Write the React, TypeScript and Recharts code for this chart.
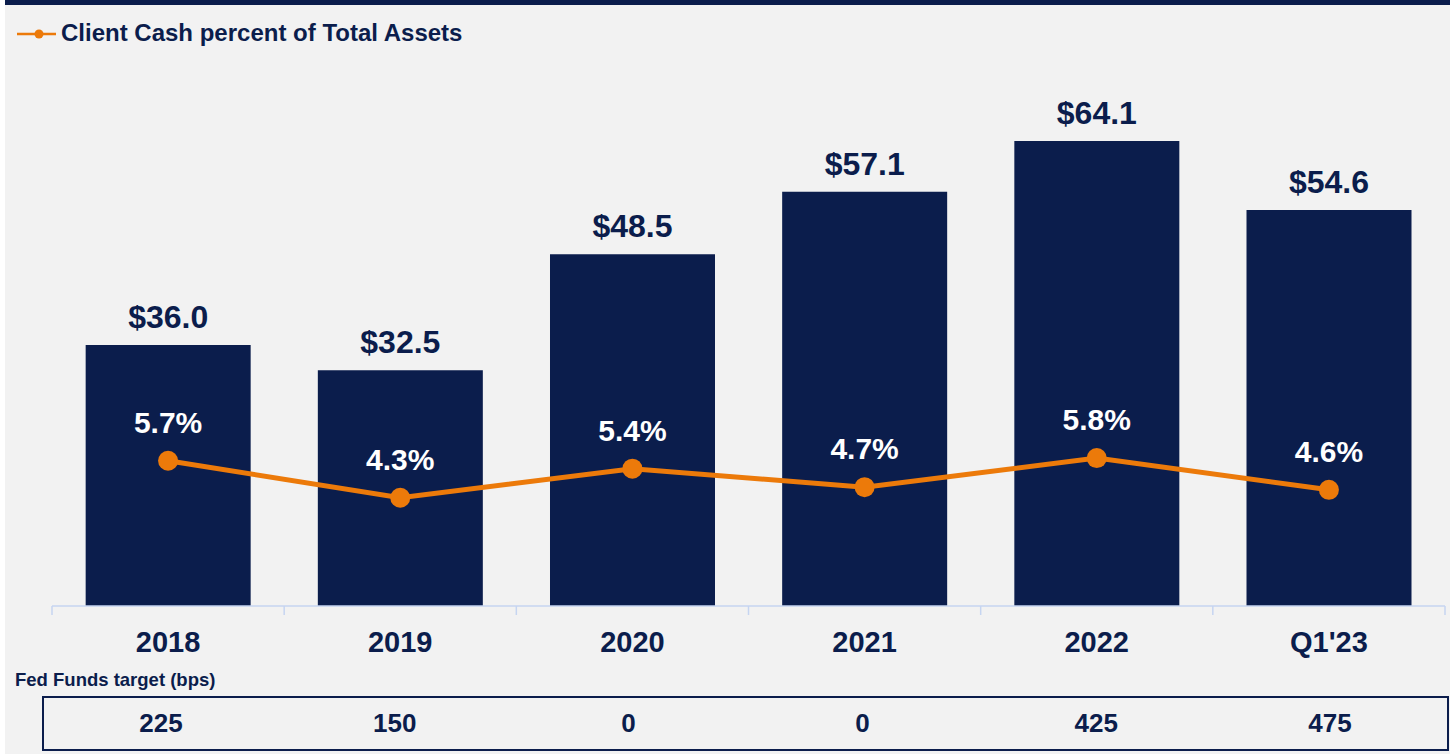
import {
  ComposedChart,
  Bar,
  Line,
  XAxis,
  YAxis,
  LabelList,
  Legend,
} from "recharts";

const categories = ["2018", "2019", "2020", "2021", "2022", "Q1'23"];
const clientCash = [36.0, 32.5, 48.5, 57.1, 64.1, 54.6];
const cashPct = [5.7, 4.3, 5.4, 4.7, 5.8, 4.6];
const fedFunds = ["225", "150", "0", "0", "425", "475"];

const NAVY = "#0b1d4c";
const ORANGE = "#ec7a0a";
const AXIS = "#c6d5f1";
const FONT = "'Liberation Sans', Arial, sans-serif";

const data = categories.map((year, i) => ({
  year,
  cash: clientCash[i],
  pct: cashPct[i],
}));

function YearTick(props: any) {
  const { x, y, payload, index, visibleTicksCount } = props;
  const half = payload?.offset ?? 116;
  const last = index === visibleTicksCount - 1;
  return (
    <g>
      <line x1={x - half} x2={x - half} y1={y - 9} y2={y} stroke={AXIS} strokeWidth={1.5} />
      {last && (
        <line x1={x + half} x2={x + half} y1={y - 9} y2={y} stroke={AXIS} strokeWidth={1.5} />
      )}
      <text
        x={x}
        y={y + 37}
        textAnchor="middle"
        fill={NAVY}
        fontSize={29}
        fontWeight="bold"
        fontFamily={FONT}
      >
        {payload.value}
      </text>
    </g>
  );
}

function CashLabel(props: any) {
  const { x, y, width, value } = props;
  return (
    <text
      x={x + width / 2}
      y={y - 17}
      textAnchor="middle"
      fill={NAVY}
      fontSize={32}
      fontWeight="bold"
      fontFamily={FONT}
    >
      ${Number(value).toFixed(1)}
    </text>
  );
}

function PctLabel(props: any) {
  const { x, y, value } = props;
  return (
    <text
      x={x}
      y={y - 28}
      textAnchor="middle"
      fill="#ffffff"
      fontSize={30}
      fontWeight="bold"
      fontFamily={FONT}
    >
      {Number(value).toFixed(1)}%
    </text>
  );
}

function LegendContent() {
  return (
    <div style={{ display: "flex", alignItems: "center", height: 24 }}>
      <svg width={44} height={24}>
        <line x1={0} x2={39} y1={13} y2={13} stroke={ORANGE} strokeWidth={2.5} />
        <circle cx={22} cy={13} r={4.5} fill={ORANGE} />
      </svg>
      <span
        style={{
          color: NAVY,
          fontSize: 24,
          fontWeight: "bold",
          fontFamily: FONT,
          lineHeight: "24px",
        }}
      >
        Client Cash percent of Total Assets
      </span>
    </div>
  );
}

export default function App() {
  return (
    <div
      style={{
        position: "absolute",
        left: 0,
        top: 0,
        width: 1450,
        height: 754,
        background: "#ffffff",
        fontFamily: FONT,
        overflow: "hidden",
      }}
    >
      <div
        style={{
          position: "absolute",
          left: 5,
          top: 0,
          width: 1445,
          height: 754,
          background: "#f2f2f2",
        }}
      />
      <div
        style={{
          position: "absolute",
          left: 5,
          top: 0,
          width: 1445,
          height: 5,
          background: NAVY,
        }}
      />
      <div style={{ position: "absolute", left: 0, top: 0 }}>
        <ComposedChart
          width={1450}
          height={670}
          data={data}
          margin={{ top: 38, right: 5, left: 52, bottom: 0 }}
          barCategoryGap="14.5%"
        >
          <Legend
            verticalAlign="top"
            align="left"
            content={<LegendContent />}
            wrapperStyle={{ top: 21, left: 17, width: "auto" }}
          />
          <XAxis
            dataKey="year"
            stroke={AXIS}
            strokeWidth={1.5}
            tickLine={false}
            tickSize={9}
            tickMargin={0}
            height={64}
            interval={0}
            tick={<YearTick />}
          />
          <YAxis yAxisId="cash" hide domain={[0, 75]} />
          <YAxis yAxisId="pct" hide orientation="right" domain={[0.2, 20.8]} />
          <Bar yAxisId="cash" dataKey="cash" fill={NAVY} isAnimationActive={false}>
            <LabelList dataKey="cash" content={<CashLabel />} />
          </Bar>
          <Line
            yAxisId="pct"
            dataKey="pct"
            type="linear"
            stroke={ORANGE}
            strokeWidth={5}
            dot={{ r: 10, fill: ORANGE, stroke: ORANGE, strokeWidth: 0 }}
            isAnimationActive={false}
          >
            <LabelList dataKey="pct" content={<PctLabel />} />
          </Line>
        </ComposedChart>
      </div>
      <div
        style={{
          position: "absolute",
          left: 15,
          top: 669,
          color: NAVY,
          fontSize: 18.5,
          fontWeight: "bold",
        }}
      >
        Fed Funds target (bps)
      </div>
      <div
        style={{
          position: "absolute",
          left: 42,
          top: 696,
          width: 1407,
          height: 55,
          border: `2px solid ${NAVY}`,
          boxSizing: "border-box",
          display: "flex",
          alignItems: "center",
        }}
      >
        {fedFunds.map((v, i) => (
          <div
            key={i}
            style={{
              flex: 1,
              textAlign: "center",
              color: NAVY,
              fontSize: 26,
              fontWeight: "bold",
            }}
          >
            {v}
          </div>
        ))}
      </div>
    </div>
  );
}
